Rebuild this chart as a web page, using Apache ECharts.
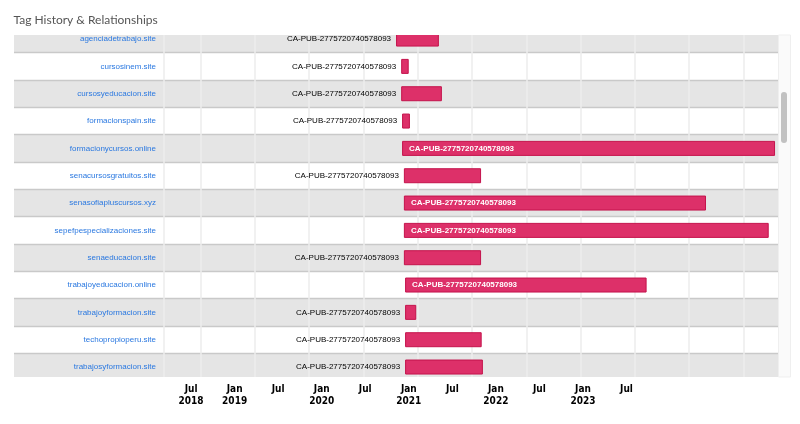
<!DOCTYPE html>
<html>
<head>
<meta charset="utf-8">
<script src="https://cdn.jsdelivr.net/npm/echarts@6/dist/echarts.min.js"></script>
<style>
html,body{margin:0;padding:0;background:#fff;}
#chart{width:800px;height:424px;}
</style>
</head>
<body>
<div id="chart"></div>
<script>
// ---- data ----
const categories = [
  'agenciadetrabajo.site',
  'cursosinem.site',
  'cursosyeducacion.site',
  'formacionspain.site',
  'formacionycursos.online',
  'senacursosgratuitos.site',
  'senasofiapluscursos.xyz',
  'sepefpespecializaciones.site',
  'senaeducacion.site',
  'trabajoyeducacion.online',
  'trabajoyformacion.site',
  'techopropioperu.site',
  'trabajosyformacion.site'
];
const tagIds = [
  'CA-PUB-2775720740578093','CA-PUB-2775720740578093','CA-PUB-2775720740578093',
  'CA-PUB-2775720740578093','CA-PUB-2775720740578093','CA-PUB-2775720740578093',
  'CA-PUB-2775720740578093','CA-PUB-2775720740578093','CA-PUB-2775720740578093',
  'CA-PUB-2775720740578093','CA-PUB-2775720740578093','CA-PUB-2775720740578093',
  'CA-PUB-2775720740578093'
];
const startDates = [
  '2020-04-19','2020-05-06','2020-05-06','2020-05-09','2020-05-09',
  '2020-05-15','2020-05-15','2020-05-15','2020-05-15','2020-05-19',
  '2020-05-19','2020-05-19','2020-05-19'
];
const endDates = [
  '2020-09-11','2020-06-01','2020-09-21','2020-06-05','2023-10-16',
  '2021-01-31','2023-02-27','2023-09-25','2021-01-31','2022-08-10',
  '2020-06-26','2021-02-03','2021-02-07'
];
// tick labels, every 6 months starting Jul 2018
const tickLabels = ['Jul\n2018','Jan\n2019','Jul','Jan\n2020','Jul','Jan\n2021','Jul','Jan\n2022','Jul','Jan\n2023','Jul'];

// months since Jan 2018
function toMonths(s) {
  const [y, m, d] = s.split('-').map(Number);
  return (y - 2018) * 12 + (m - 1) + (d - 1) / 30;
}
const barData = categories.map((c, i) => [i, toMonths(startDates[i]), toMonths(endDates[i])]);

const FONT = '"Liberation Sans", Arial, sans-serif';
const TOP = 25.4, HEIGHT = 355.3;

function renderItem(params, api) {
  const cat = api.value(0);
  const p0 = api.coord([api.value(1), cat]);
  const p1 = api.coord([api.value(2), cat]);
  const h = 15;
  const x = p0[0], w = p1[0] - p0[0], y = p0[1] - h / 2;
  const inside = w > 130;
  return {
    type: 'group',
    children: [
      { type: 'rect', shape: { x: x + 0.5, y: y + 0.5, width: w - 1, height: h - 1 },
        style: { fill: '#dd3069', stroke: '#c4134c', lineWidth: 1 } },
      { type: 'text', style: {
          text: tagIds[params.dataIndex],
          x: inside ? x + 7 : x - 5, y: p0[1],
          align: inside ? 'left' : 'right', verticalAlign: 'middle',
          fill: inside ? '#ffffff' : '#000000',
          font: (inside ? 'bold ' : '') + '8px ' + FONT } }
    ]
  };
}

const chart = echarts.init(document.getElementById('chart'));
chart.setOption({
  animation: false,
  backgroundColor: '#fff',
  grid: [
    { left: 14, right: 21.7, top: TOP, height: HEIGHT },
    { left: 146.4, right: 21.7, top: TOP, height: HEIGHT },
    { left: 147.55, right: 129.95, top: TOP, height: HEIGHT }
  ],
  xAxis: [
    { gridIndex: 0, type: 'value', min: 0, max: 1, show: false },
    { gridIndex: 1, type: 'value', min: 0, max: 69.86, interval: 6, z: 1,
      axisLine: { show: false }, axisTick: { show: false }, axisLabel: { show: false },
      splitLine: { show: true, showMinLine: false, showMaxLine: false, lineStyle: { color: '#ededed', width: 1.5 } } },
    { gridIndex: 2, type: 'value', min: 0, max: 72, interval: 6,
      axisLine: { show: false }, axisTick: { show: false }, splitLine: { show: false },
      axisLabel: { show: true, margin: 3, color: '#000', fontWeight: 'bold', fontSize: 10, lineHeight: 12,
        fontFamily: '"Liberation Sans Narrow", "DejaVu Sans Condensed", Arial, sans-serif',
        formatter: function (v) {
          const idx = Math.round((v - 6) / 6);
          return (idx >= 0 && idx < tickLabels.length) ? tickLabels[idx] : '';
        } } }
  ],
  yAxis: [
    { gridIndex: 0, type: 'category', data: categories, inverse: true, position: 'left', offset: -150, z: 0,
      axisLine: { show: true, lineStyle: { color: '#ededed', width: 1.5 } },
      axisTick: { show: false },
      axisLabel: { color: '#2a78e0', fontSize: 8, fontFamily: FONT, margin: 8 },
      splitArea: { show: true, areaStyle: { color: ['#e5e5e5', '#ffffff'] } },
      splitLine: { show: true, lineStyle: { color: '#c9c9c9', width: 1.3 } } },
    { gridIndex: 1, type: 'category', data: categories, inverse: true, show: false },
    { gridIndex: 2, type: 'value', min: 0, max: 1, show: false }
  ],
  series: [
    { type: 'custom', xAxisIndex: 1, yAxisIndex: 1, renderItem: renderItem,
      encode: { x: [1, 2], y: 0 }, data: barData, z: 3 }
  ],
  graphic: [
    { type: 'rect', z: 100, shape: { x: 0, y: 0, width: 800, height: 35 }, style: { fill: '#fff' } },
    { type: 'rect', z: 100, shape: { x: 0, y: 377, width: 800, height: 5 }, style: { fill: '#fff' } },
    { type: 'text', z: 101, style: { text: 'Tag History & Relationships', x: 13.5, y: 20,
        verticalAlign: 'middle', fill: '#555555', font: '12px Lato, "Open Sans", sans-serif' } },
    { type: 'rect', z: 101, shape: { x: 778.5, y: 35, width: 12, height: 342 },
        style: { fill: '#fafafa', stroke: '#efefef', lineWidth: 1 } },
    { type: 'rect', z: 102, shape: { x: 781, y: 92, width: 6, height: 51, r: 3 },
        style: { fill: '#c1c1c1' } }
  ]
});
</script>
</body>
</html>
